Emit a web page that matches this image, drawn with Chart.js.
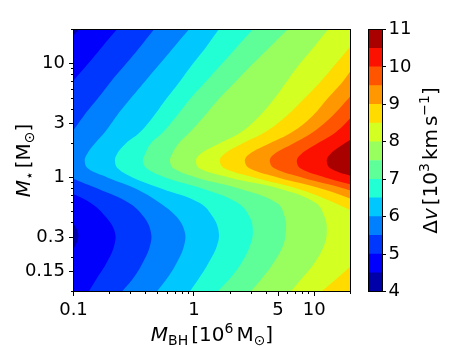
<!DOCTYPE html>
<html>
<head>
<meta charset="utf-8">
<script src="https://cdn.jsdelivr.net/npm/chart.js@4.4.1/dist/chart.umd.min.js"></script>
<style>
  html, body { margin: 0; padding: 0; background: #fff; }
  #wrap { position: relative; width: 463px; height: 347px; }
  #main { position: absolute; left: 0; top: 0; }
  #cbar { position: absolute; left: 350px; top: 0; }
</style>
</head>
<body>
<div id="wrap">
  <canvas id="main" width="463" height="347"></canvas>
  <canvas id="cbar" width="113" height="347"></canvas>
</div>
<script>
// rows of M_star (M_sun) where each contour was read off the figure
// (first and last rows sit just outside the plotted range)
const mStar = [28, 20, 14, 10, 7, 5, 3.5, 2.5, 2, 1.6, 1.4, 1.2, 1, 0.8, 0.6, 0.45, 0.33, 0.25, 0.18, 0.13, 0.1, 0.07];

// M_BH (10^6 M_sun) of each contour level along those rows
const bh4_5  = [0.148, 0.111, 0.083, 0.064, 0.053, 0.048, 0.045, 0.043, 0.043, 0.043, 0.043, 0.045, 0.049, 0.057, 0.072, 0.09, 0.109, 0.103, 0.08, 0.066, 0.059, 0.051];
const bh5    = [0.306, 0.229, 0.172, 0.132, 0.099, 0.077, 0.061, 0.052, 0.047, 0.044, 0.043, 0.047, 0.059, 0.08, 0.139, 0.186, 0.221, 0.217, 0.189, 0.156, 0.134, 0.109];
const bh5_5  = [0.609, 0.466, 0.356, 0.273, 0.205, 0.16, 0.122, 0.097, 0.083, 0.074, 0.072, 0.08, 0.097, 0.16, 0.289, 0.385, 0.44, 0.431, 0.377, 0.312, 0.253, 0.189];
const bh6    = [1.21, 0.909, 0.682, 0.522, 0.392, 0.3, 0.229, 0.182, 0.151, 0.129, 0.124, 0.132, 0.193, 0.33, 0.522, 0.723, 0.842, 0.826, 0.723, 0.597, 0.493, 0.377];
const bh6_5  = [2.07, 1.61, 1.26, 0.981, 0.765, 0.597, 0.466, 0.356, 0.273, 0.229, 0.221, 0.234, 0.312, 0.542, 1.12, 1.44, 1.61, 1.55, 1.33, 1.1, 0.926, 0.737];
const bh7    = [4.19, 3.09, 2.27, 1.71, 1.26, 0.944, 0.723, 0.553, 0.44, 0.392, 0.377, 0.407, 0.586, 1.19, 2.32, 2.91, 3.09, 2.91, 2.5, 1.99, 1.58, 1.165];
const bh7_5  = [8.51, 6.03, 4.27, 3.09, 2.23, 1.64, 1.23, 0.926, 0.751, 0.657, 0.632, 0.682, 1.06, 2.41, 4.89, 5.69, 5.8, 5.48, 4.61, 3.67, 2.97, 2.23];
const bh8    = [16.9, 13.0, 9.91, 7.58, 5.91, 4.7, 3.53, 2.46, 1.64, 1.12, 1.04, 1.12, 1.99, 5.17, 10.3, 12.2, 12.7, 12.0, 10.1, 7.88, 6.38, 4.79];
const bh8_5  = [33.7, 25.8, 19.7, 15.1, 11.3, 8.35, 5.91, 3.88, 2.55, 1.77, 1.64, 1.81, 3.21, 7.3, 14.8, 24.8, 33.7, 30.0, 21.7, 15.4, 11.5, 7.88];
const bh9    = [64.5, 46.6, 33.7, 22.6, 17.3, 13.0, 9.72, 6.51, 4.27, 2.86, 2.65, 2.92, 5.07, 11.5, 24.8, 46.6, 68.3, 68.3, 51.2, 38.5, 31.8, 26.3];
const bh9_5  = [82.7, 62, 46.6, 35, 26.3, 19.4, 14.2, 9.72, 6.76, 4.61, 4.27, 4.7, 8.03, 17.9, 38.5, 68.3, 90.9, 90.9, 82.7, 75.1, 68.3, 62];
const bh10   = [121, 90.9, 68.3, 51.2, 38.5, 28.9, 20.9, 15.1, 10.7, 7.73, 7.16, 7.73, 12.5, 26.3, 51.2, 75.1, 90.9, 100, 110, 110, 110, 110];
const bh10_5 = [162, 129, 110, 90.9, 75.1, 56.5, 38.5, 24.8, 17.9, 13.5, 12.7, 13.7, 22.1, 38.5, 62, 90.9, 110, 129, 147, 162, 162, 162];

// contour levels of delta v (10^3 km/s); contour k sits at levels[k + 1]
const levels = [4, 4.5, 5, 5.5, 6, 6.5, 7, 7.5, 8, 8.5, 9, 9.5, 10, 10.5, 11];
const contours = [bh4_5, bh5, bh5_5, bh6, bh6_5, bh7, bh7_5, bh8, bh8_5, bh9, bh9_5, bh10, bh10_5];

const xTicks = [0.1, 1, 5, 10];
const xTickLabels = ['0.1', '1', '5', '10'];
const xMinorTicks = [0.2, 0.3, 0.4, 0.5, 0.6, 0.7, 0.8, 0.9, 2, 3, 4, 6, 7, 8, 9, 20];
const yTicks = [0.15, 0.3, 1, 3, 10];
const yTickLabels = ['0.15', '0.3', '1', '3', '10'];
const yMinorTicks = [0.1, 0.2, 0.4, 0.5, 0.6, 0.7, 0.8, 0.9, 2, 4, 5, 6, 7, 8, 9, 20];
const cbTicks = [4, 5, 6, 7, 8, 9, 10, 11];

const FONT = '"DejaVu Sans"';
Chart.defaults.font.family = FONT;
Chart.defaults.color = '#000';

// matplotlib 'jet'
function jet(t) {
  const seg = pts => {
    for (let i = 1; i < pts.length; i++) {
      if (t <= pts[i][0]) {
        const [x0, y0] = pts[i - 1], [x1, y1] = pts[i];
        return y0 + (y1 - y0) * (t - x0) / (x1 - x0);
      }
    }
    return pts[pts.length - 1][1];
  };
  const r = seg([[0, 0], [0.35, 0], [0.66, 1], [0.89, 1], [1, 0.5]]);
  const g = seg([[0, 0], [0.125, 0], [0.375, 1], [0.64, 1], [0.91, 0], [1, 0]]);
  const b = seg([[0, 0.5], [0.11, 1], [0.34, 1], [0.65, 0], [1, 0]]);
  return `rgb(${Math.round(r * 255)},${Math.round(g * 255)},${Math.round(b * 255)})`;
}
const lo = levels[0], hi = levels[levels.length - 1];
const bandColors = levels.slice(0, -1).map((l, i) => jet(((l + levels[i + 1]) / 2 - lo) / (hi - lo)));

// text with italics / sub / superscripts, centred on (cx, cy baseline)
function richText(ctx, parts, cx, cy, angle) {
  const size = 20;
  const font = p => (p.i ? 'italic ' : '') + (p.s ? Math.round(size * 0.7) : size) + 'px ' + FONT;
  ctx.save();
  ctx.translate(cx, cy);
  ctx.rotate(angle);
  ctx.fillStyle = '#000';
  ctx.textBaseline = 'alphabetic';
  ctx.textAlign = 'left';
  let total = 0;
  parts.forEach(p => {
    if (p.gap) p.w = p.gap;
    else { ctx.font = font(p); p.w = ctx.measureText(p.t).width; }
    total += p.w;
  });
  let x = -total / 2;
  parts.forEach(p => {
    if (!p.gap) {
      ctx.font = font(p);
      ctx.fillText(p.t, x, p.s === 'sub' ? 4 : p.s === 'sup' ? -8 : 0);
    }
    x += p.w;
  });
  ctx.restore();
}

const xTitle = [{t: 'M', i: 1}, {t: 'BH', s: 'sub'}, {gap: 3}, {t: '[10'}, {t: '6', s: 'sup'}, {gap: 3}, {t: 'M'}, {t: '\u2299', s: 'sub'}, {t: ']'}];
const yTitle = [{t: 'M', i: 1}, {t: '\u22c6', s: 'sub'}, {gap: 3}, {t: '[M'}, {t: '\u2299', s: 'sub'}, {t: ']'}];
const cbTitle = [{t: '\u0394'}, {t: 'v', i: 1}, {gap: 3}, {t: '[10'}, {t: '3', s: 'sup'}, {gap: 3}, {t: 'km'}, {gap: 3}, {t: 's'}, {t: '\u22121', s: 'sup'}, {t: ']'}];

const crisp = v => Math.round(v - 0.5) + 0.5;

const mainDecor = {
  id: 'mainDecor',
  beforeDatasetsDraw(chart) {
    const {ctx, chartArea: a} = chart;
    ctx.save();
    ctx.fillStyle = bandColors[0];
    ctx.fillRect(a.left, a.top, a.right - a.left, a.bottom - a.top);
    ctx.restore();
  },
  afterDraw(chart) {
    const {ctx, chartArea: a, scales: {x, y}} = chart;
    ctx.save();
    ctx.strokeStyle = '#000';
    ctx.lineWidth = 1;
    const mark = (x1, y1, x2, y2) => { ctx.beginPath(); ctx.moveTo(x1, y1); ctx.lineTo(x2, y2); ctx.stroke(); };
    xTicks.forEach(v => { const p = crisp(x.getPixelForValue(v)); mark(p, a.bottom, p, a.bottom + 4.5); });
    xMinorTicks.forEach(v => { const p = crisp(x.getPixelForValue(v)); mark(p, a.bottom, p, a.bottom + 2.5); });
    yTicks.forEach(v => { const p = crisp(y.getPixelForValue(v)); mark(a.left, p, a.left - 4.5, p); });
    yMinorTicks.forEach(v => { const p = crisp(y.getPixelForValue(v)); mark(a.left, p, a.left - 2.5, p); });
    ctx.strokeRect(a.left, a.top, a.right - a.left, a.bottom - a.top);
    ctx.restore();
    richText(ctx, xTitle, (a.left + a.right) / 2, 341, 0);
    richText(ctx, yTitle, 29.5, (a.top + a.bottom) / 2, -Math.PI / 2);
  }
};

const farRight = 1000;
const datasets = contours.map((bh, k) => ({
  data: mStar.map((m, i) => ({x: bh[i], y: m}))
    .concat([{x: farRight, y: mStar[mStar.length - 1]}, {x: farRight, y: mStar[0]}]),
  showLine: true,
  fill: 'shape',
  tension: 0.4,
  pointRadius: 0,
  borderWidth: 0,
  borderColor: 'rgba(0,0,0,0)',
  backgroundColor: bandColors[k + 1],
  order: contours.length - k
}));

new Chart(document.getElementById('main'), {
  type: 'scatter',
  data: {datasets},
  options: {
    responsive: false,
    animation: false,
    events: [],
    devicePixelRatio: 1,
    layout: {padding: {left: 0, right: 112.5, top: 29.5, bottom: 0}},
    elements: {line: {capBezierPoints: false}},
    plugins: {legend: {display: false}, tooltip: {enabled: false}},
    scales: {
      x: {
        type: 'logarithmic', min: 0.1, max: 20, position: 'bottom',
        grid: {display: false, drawTicks: false},
        border: {display: false},
        afterBuildTicks: s => { s.ticks = xTicks.map(v => ({value: v})); },
        afterFit: s => { s.height = 55.5; },
        ticks: {
          autoSkip: false, maxRotation: 0, padding: 8,
          font: {size: 18, family: FONT}, color: '#000',
          callback: v => xTickLabels[xTicks.indexOf(v)]
        }
      },
      y: {
        type: 'logarithmic', min: 0.1, max: 20, position: 'left',
        grid: {display: false, drawTicks: false},
        border: {display: false},
        afterBuildTicks: s => { s.ticks = yTicks.map(v => ({value: v})); },
        afterFit: s => { s.width = 73.5; },
        ticks: {
          autoSkip: false, padding: 8.5,
          font: {size: 18, family: FONT}, color: '#000',
          callback: v => yTickLabels[yTicks.indexOf(v)]
        }
      }
    }
  },
  plugins: [mainDecor]
});

const cbDecor = {
  id: 'cbDecor',
  afterDraw(chart) {
    const {ctx, chartArea: a} = chart;
    ctx.save();
    ctx.strokeStyle = '#000';
    ctx.lineWidth = 1;
    ctx.strokeRect(crisp(a.left), a.top, Math.round(a.right - a.left), a.bottom - a.top);
    ctx.restore();
    richText(ctx, cbTitle, 87.3, (a.top + a.bottom) / 2, -Math.PI / 2);
  }
};

new Chart(document.getElementById('cbar'), {
  type: 'bar',
  data: {
    labels: ['\u0394v'],
    datasets: bandColors.map((c, i) => ({
      data: [[levels[i], levels[i + 1]]],
      backgroundColor: c,
      borderWidth: 0,
      grouped: false,
      barPercentage: 1,
      categoryPercentage: 1
    }))
  },
  options: {
    responsive: false,
    animation: false,
    events: [],
    devicePixelRatio: 1,
    layout: {padding: {left: 18, right: 0, top: 29.5, bottom: 55.5}},
    plugins: {legend: {display: false}, tooltip: {enabled: false}},
    scales: {
      x: {display: false},
      y: {
        position: 'right', min: lo, max: hi,
        grid: {display: true, drawOnChartArea: false, drawTicks: true, tickLength: 4, color: '#000', lineWidth: 1},
        border: {display: false},
        afterBuildTicks: s => { s.ticks = cbTicks.map(v => ({value: v})); },
        afterFit: s => { s.width = 81; },
        ticks: {padding: 2.5, font: {size: 18, family: FONT}, color: '#000', callback: v => String(v)}
      }
    }
  },
  plugins: [cbDecor]
});
</script>
</body>
</html>
